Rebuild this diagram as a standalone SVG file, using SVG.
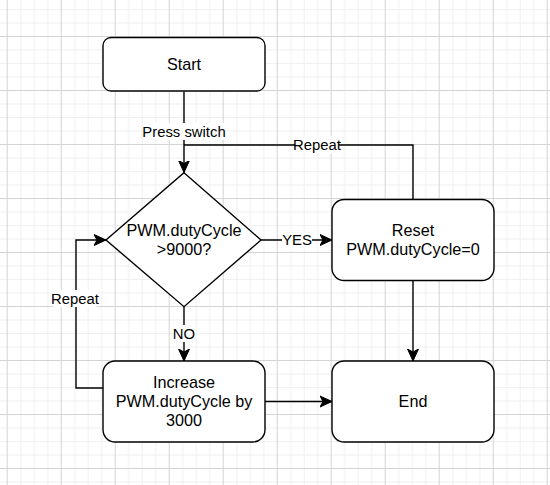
<svg xmlns="http://www.w3.org/2000/svg" width="550" height="485" viewBox="0 0 550 485">
  <defs>
    <pattern id="grid" patternUnits="userSpaceOnUse" x="6.7" y="36" width="54" height="54">
      <rect x="0" y="0" width="54" height="54" fill="#ffffff"/>
      <g fill="#f0f0f0">
        <rect x="13.5" y="0" width="1" height="54"/>
        <rect x="27" y="0" width="1" height="54"/>
        <rect x="40.5" y="0" width="1" height="54"/>
        <rect x="0" y="13.5" width="54" height="1"/>
        <rect x="0" y="27" width="54" height="1"/>
        <rect x="0" y="40.5" width="54" height="1"/>
      </g>
      <g fill="#d4d4d4">
        <rect x="0" y="0" width="1" height="54"/>
        <rect x="0" y="0" width="54" height="1"/>
      </g>
    </pattern>
    <marker id="arrow" markerUnits="userSpaceOnUse" markerWidth="13" markerHeight="13" viewBox="0 -6.5 13 13" refX="12" refY="0" orient="auto">
      <path d="M0,-5.5 L12,0 L0,5.5 L3,0 Z" fill="#000000" stroke="#000000" stroke-width="1" stroke-linejoin="miter"/>
    </marker>
  </defs>
  <style>
    .node { fill: #ffffff; stroke: #000000; stroke-width: 1.4; }
    .edge { fill: none; stroke: #000000; stroke-width: 1.4; }
    .txt { font-family: "Liberation Sans", Arial, sans-serif; font-size: 16.2px; fill: #000000; text-anchor: middle; }
    .lbl { font-family: "Liberation Sans", Arial, sans-serif; font-size: 14.85px; fill: #000000; text-anchor: middle; }
    .lblbg { fill: #ffffff; stroke: none; }
  </style>
  <rect x="0" y="0" width="550" height="485" fill="url(#grid)"/>

  <g id="connectors">
    <path class="edge" d="M184,91.5 L184,172.5" marker-end="url(#arrow)"/>
    <path class="edge" d="M413,199.5 L413,145 L184,145"/>
    <path class="edge" d="M261,240 L332,240" marker-end="url(#arrow)"/>
    <path class="edge" d="M184,306.7 L184,361" marker-end="url(#arrow)"/>
    <path class="edge" d="M103,388 L76,388 L76,240 L106,240" marker-end="url(#arrow)"/>
    <path class="edge" d="M265,401.5 L332,401.5" marker-end="url(#arrow)"/>
    <path class="edge" d="M413,280.5 L413,361" marker-end="url(#arrow)"/>

    <g id="label-press">
      <rect class="lblbg" x="142.5" y="123" width="83" height="17"/>
      <text class="lbl" x="184" y="136.7">Press switch</text>
    </g>
    <g id="label-repeat-top">
      <rect class="lblbg" x="295" y="136.5" width="44" height="17"/>
      <text class="lbl" x="317" y="150">Repeat</text>
    </g>
    <g id="label-yes">
      <rect class="lblbg" x="282" y="231.5" width="30" height="17"/>
      <text class="lbl" x="297" y="245.2">YES</text>
    </g>
    <g id="label-no">
      <rect class="lblbg" x="173" y="325" width="22" height="17"/>
      <text class="lbl" x="184" y="338.5">NO</text>
    </g>
    <g id="label-repeat-left">
      <rect class="lblbg" x="53" y="290" width="44" height="17"/>
      <text class="lbl" x="75" y="303.7">Repeat</text>
    </g>
  </g>

  <g id="start">
    <rect class="node" x="103" y="37.5" width="162" height="53.5" rx="8.1" ry="8.1"/>
    <text class="txt" x="184" y="69.5">Start</text>
  </g>

  <g id="decision">
    <polygon class="node" points="184,172.7 261,240 184,306.7 106,240"/>
    <text class="txt" x="184" y="236">PWM.dutyCycle</text>
    <text class="txt" x="184" y="255.2">&gt;9000?</text>
  </g>

  <g id="reset">
    <rect class="node" x="332" y="199.5" width="162" height="81" rx="12.15" ry="12.15"/>
    <text class="txt" x="413" y="235.5">Reset</text>
    <text class="txt" x="413" y="255">PWM.dutyCycle=0</text>
  </g>

  <g id="increase">
    <rect class="node" x="103" y="361" width="162" height="81" rx="12.15" ry="12.15"/>
    <text class="txt" x="184" y="387.6">Increase</text>
    <text class="txt" x="184" y="407.2">PWM.dutyCycle by</text>
    <text class="txt" x="184" y="426.3">3000</text>
  </g>

  <g id="end">
    <rect class="node" x="332" y="361" width="162" height="81" rx="12.15" ry="12.15"/>
    <text class="txt" x="413" y="407.2">End</text>
  </g>
</svg>
